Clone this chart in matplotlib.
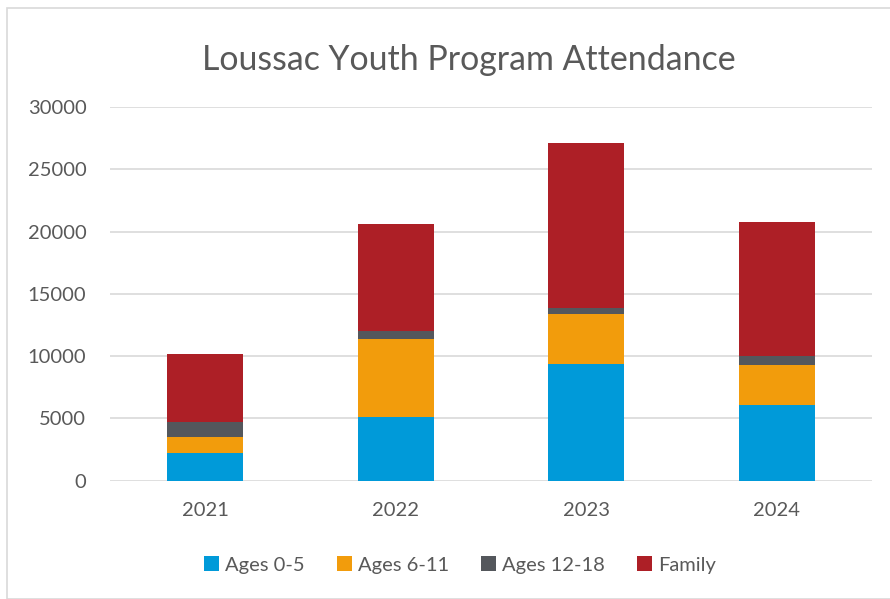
import matplotlib
matplotlib.use("Agg")
import matplotlib.pyplot as plt
from matplotlib.patches import Rectangle
import numpy as np

years = ["2021", "2022", "2023", "2024"]
ages_0_5 = [2240, 5120, 9340, 6060]
ages_6_11 = [1260, 6220, 4080, 3220]
ages_12_18 = [1250, 690, 420, 750]
family = [5440, 8570, 13230, 10770]

series = [("Ages 0-5", ages_0_5, "#009ad9"),
          ("Ages 6-11", ages_6_11, "#f29c0c"),
          ("Ages 12-18", ages_12_18, "#54575c"),
          ("Family", family, "#ad1f26")]

plt.rcParams['font.family'] = ['Lato', 'DejaVu Sans']
txt = "#595959"

fig = plt.figure(figsize=(8.9, 5.99), dpi=100)
fig.patches.append(Rectangle((7/890, 0/599), 890/890, (599-8)/599, transform=fig.transFigure,
                             fill=False, edgecolor="#d9d9d9", linewidth=1.2))
ax = fig.add_axes([110/890, 1-480.7/599, 762/890, (480.7-107)/599])

x = np.arange(len(years))
bottom = np.zeros(len(years))
handles = []
for name, vals, col in series:
    b = ax.bar(x, vals, 0.4, bottom=bottom, color=col, label=name, zorder=3)
    bottom += np.array(vals)
    handles.append(b)

ax.set_xlim(-0.5, len(years) - 0.5)
ax.set_ylim(0, 30000)
ax.set_yticks(range(0, 30001, 5000))
ax.set_xticks(x)
ax.set_xticklabels(years)
ax.tick_params(axis='both', length=0, labelsize=14.5, labelcolor=txt)
ax.tick_params(axis='y', pad=17)
ax.tick_params(axis='x', pad=15)
ax.grid(axis='y', color="#d9d9d9", linewidth=1.2, zorder=0)
for s in ax.spines.values():
    s.set_visible(False)

fig.text(469/890, 1-60/599, "Loussac Youth Program Attendance", ha='center', va='center',
         fontsize=24.4, color=txt)

fig.legend(handles=handles, labels=[s[0] for s in series], loc='center',
           bbox_to_anchor=(460/890, 1-565/599), ncol=4, frameon=False,
           fontsize=14.5, labelcolor=txt, handlelength=0.75, handleheight=0.75,
           handletextpad=0.3, columnspacing=1.6)

fig.savefig("out.png", dpi=100)
